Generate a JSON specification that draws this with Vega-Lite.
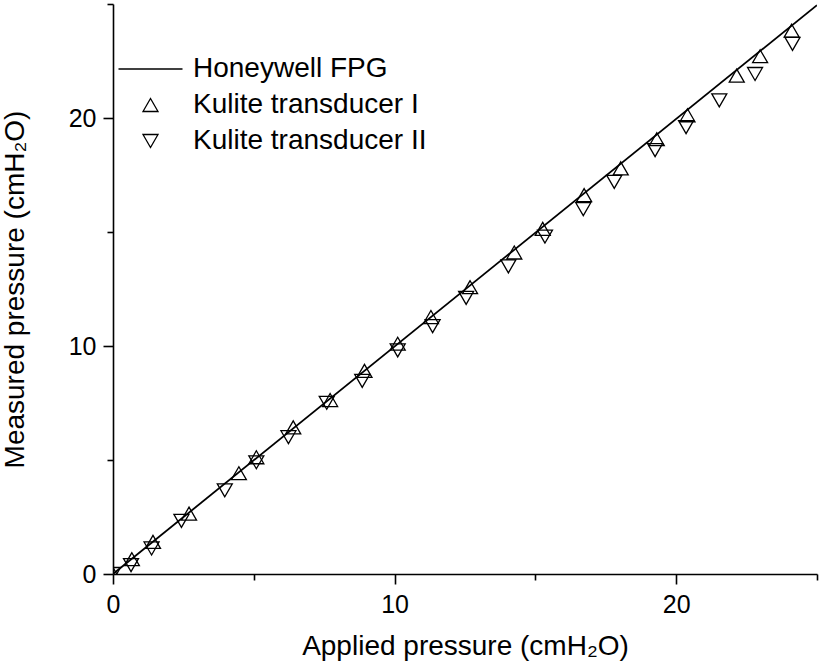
{
  "$schema": "https://vega.github.io/schema/vega-lite/v6.json",
  "width": 704,
  "height": 570,
  "autosize": {"type": "none"},
  "padding": {"left": 113, "top": 4, "right": 2, "bottom": 91},
  "background": "white",
  "config": {"view": {"stroke": null}, "font": "Liberation Sans"},
  "datasets": {
    "fpg": [
      {"applied": 0, "measured": 0},
      {"applied": 25, "measured": 24.95}
    ],
    "kulite": [
      {"sensor": "Kulite transducer I", "applied": 0, "measured": 0},
      {"sensor": "Kulite transducer I", "applied": 0.67, "measured": 0.65},
      {"sensor": "Kulite transducer I", "applied": 1.42, "measured": 1.41},
      {"sensor": "Kulite transducer I", "applied": 2.7, "measured": 2.65},
      {"sensor": "Kulite transducer I", "applied": 4.47, "measured": 4.42},
      {"sensor": "Kulite transducer I", "applied": 5.09, "measured": 5.12},
      {"sensor": "Kulite transducer I", "applied": 6.4, "measured": 6.43},
      {"sensor": "Kulite transducer I", "applied": 7.71, "measured": 7.63},
      {"sensor": "Kulite transducer I", "applied": 8.93, "measured": 8.91},
      {"sensor": "Kulite transducer I", "applied": 10.11, "measured": 10.1},
      {"sensor": "Kulite transducer I", "applied": 11.29, "measured": 11.27},
      {"sensor": "Kulite transducer I", "applied": 12.68, "measured": 12.58},
      {"sensor": "Kulite transducer I", "applied": 14.25, "measured": 14.1},
      {"sensor": "Kulite transducer I", "applied": 15.26, "measured": 15.14},
      {"sensor": "Kulite transducer I", "applied": 16.73, "measured": 16.62},
      {"sensor": "Kulite transducer I", "applied": 18.03, "measured": 17.79},
      {"sensor": "Kulite transducer I", "applied": 19.31, "measured": 19.07},
      {"sensor": "Kulite transducer I", "applied": 20.4, "measured": 20.12},
      {"sensor": "Kulite transducer I", "applied": 22.15, "measured": 21.86},
      {"sensor": "Kulite transducer I", "applied": 22.98, "measured": 22.71},
      {"sensor": "Kulite transducer I", "applied": 24.1, "measured": 23.83},
      {"sensor": "Kulite transducer II", "applied": 0, "measured": 0},
      {"sensor": "Kulite transducer II", "applied": 0.64, "measured": 0.39},
      {"sensor": "Kulite transducer II", "applied": 1.37, "measured": 1.12},
      {"sensor": "Kulite transducer II", "applied": 2.43, "measured": 2.33},
      {"sensor": "Kulite transducer II", "applied": 3.97, "measured": 3.67},
      {"sensor": "Kulite transducer II", "applied": 5.09, "measured": 4.9},
      {"sensor": "Kulite transducer II", "applied": 6.23, "measured": 6.0},
      {"sensor": "Kulite transducer II", "applied": 7.59, "measured": 7.51},
      {"sensor": "Kulite transducer II", "applied": 8.85, "measured": 8.47},
      {"sensor": "Kulite transducer II", "applied": 10.11, "measured": 9.81},
      {"sensor": "Kulite transducer II", "applied": 11.35, "measured": 10.87},
      {"sensor": "Kulite transducer II", "applied": 12.54, "measured": 12.11},
      {"sensor": "Kulite transducer II", "applied": 14.04, "measured": 13.49},
      {"sensor": "Kulite transducer II", "applied": 15.34, "measured": 14.8},
      {"sensor": "Kulite transducer II", "applied": 16.7, "measured": 16.0},
      {"sensor": "Kulite transducer II", "applied": 17.8, "measured": 17.2},
      {"sensor": "Kulite transducer II", "applied": 19.25, "measured": 18.59},
      {"sensor": "Kulite transducer II", "applied": 20.35, "measured": 19.6},
      {"sensor": "Kulite transducer II", "applied": 21.53, "measured": 20.77},
      {"sensor": "Kulite transducer II", "applied": 22.8, "measured": 21.93},
      {"sensor": "Kulite transducer II", "applied": 24.13, "measured": 23.25}
    ]
  },
  "layer": [
    {
      "data": {"name": "fpg"},
      "mark": {"type": "line", "color": "black", "strokeWidth": 1.8, "clip": true},
      "encoding": {
        "x": {
          "field": "applied", "type": "quantitative",
          "scale": {"domain": [0, 25], "nice": false, "zero": false},
          "axis": {
            "values": [0, 5, 10, 15, 20, 25],
            "title": "Applied pressure (cmH₂O)",
            "grid": false,
            "domainColor": "black", "domainWidth": 1.6,
            "tickColor": "black", "tickWidth": 1.6,
            "tickSize": {"condition": {"test": "datum.value % 10 === 0", "value": 10}, "value": 6},
            "labelExpr": "datum.value % 10 === 0 ? datum.label : ''",
            "labelFont": "Liberation Sans", "labelFontSize": 25, "labelColor": "black",
            "labelPadding": 8, "labelFlush": false, "labelOverlap": false,
            "titleFont": "Liberation Sans", "titleFontSize": 28, "titleFontWeight": "normal",
            "titleColor": "black", "titleBaseline": "alphabetic", "titleY": 80, "titleLimit": 700
          }
        },
        "y": {
          "field": "measured", "type": "quantitative",
          "scale": {"domain": [0, 25], "nice": false, "zero": false},
          "axis": {
            "values": [0, 5, 10, 15, 20, 25],
            "title": "Measured pressure (cmH₂O)",
            "grid": false,
            "domainColor": "black", "domainWidth": 1.6,
            "tickColor": "black", "tickWidth": 1.6,
            "tickSize": {"condition": {"test": "datum.value % 10 === 0", "value": 10}, "value": 6},
            "labelExpr": "datum.value % 10 === 0 ? datum.label : ''",
            "labelFont": "Liberation Sans", "labelFontSize": 25, "labelColor": "black",
            "labelPadding": 7, "labelFlush": false, "labelOverlap": false,
            "titleFont": "Liberation Sans", "titleFontSize": 28, "titleFontWeight": "normal",
            "titleColor": "black", "titleBaseline": "alphabetic", "titleX": -90, "titleLimit": 700
          }
        }
      }
    },
    {
      "data": {"name": "kulite"},
      "mark": {"type": "point", "filled": false, "color": "black", "strokeWidth": 1.3, "opacity": 1, "clip": true},
      "encoding": {
        "x": {"field": "applied", "type": "quantitative"},
        "y": {"field": "measured", "type": "quantitative"},
        "shape": {
          "field": "sensor", "type": "nominal",
          "scale": {
            "domain": ["Honeywell FPG", "Kulite transducer I", "Kulite transducer II"],
            "range": ["stroke", "triangle-up", "triangle-down"]
          },
          "legend": {
            "orient": "none", "legendX": 4.5, "legendY": 50,
            "title": null, "padding": 0,
            "labelFont": "Liberation Sans", "labelFontSize": 28, "labelColor": "black",
            "labelOffset": 9.5, "labelLimit": 400,
            "symbolStrokeColor": "black", "symbolStrokeWidth": 1.3,
            "symbolFillColor": "transparent",
            "clipHeight": 30, "rowPadding": 6,
            "encode": {"labels": {"update": {"dy": {"value": 5}}}}
          }
        },
        "size": {
          "field": "sensor", "type": "nominal",
          "scale": {
            "type": "ordinal",
            "domain": ["Honeywell FPG", "Kulite transducer I", "Kulite transducer II"],
            "range": [4096, 225, 225]
          },
          "legend": {
            "orient": "none", "legendX": 4.5, "legendY": 50,
            "title": null, "padding": 0,
            "labelFont": "Liberation Sans", "labelFontSize": 28, "labelColor": "black",
            "labelOffset": 9.5, "labelLimit": 400,
            "symbolStrokeColor": "black", "symbolStrokeWidth": 1.3,
            "symbolFillColor": "transparent",
            "clipHeight": 30, "rowPadding": 6,
            "encode": {"labels": {"update": {"dy": {"value": 5}}}}
          }
        }
      }
    }
  ]
}
